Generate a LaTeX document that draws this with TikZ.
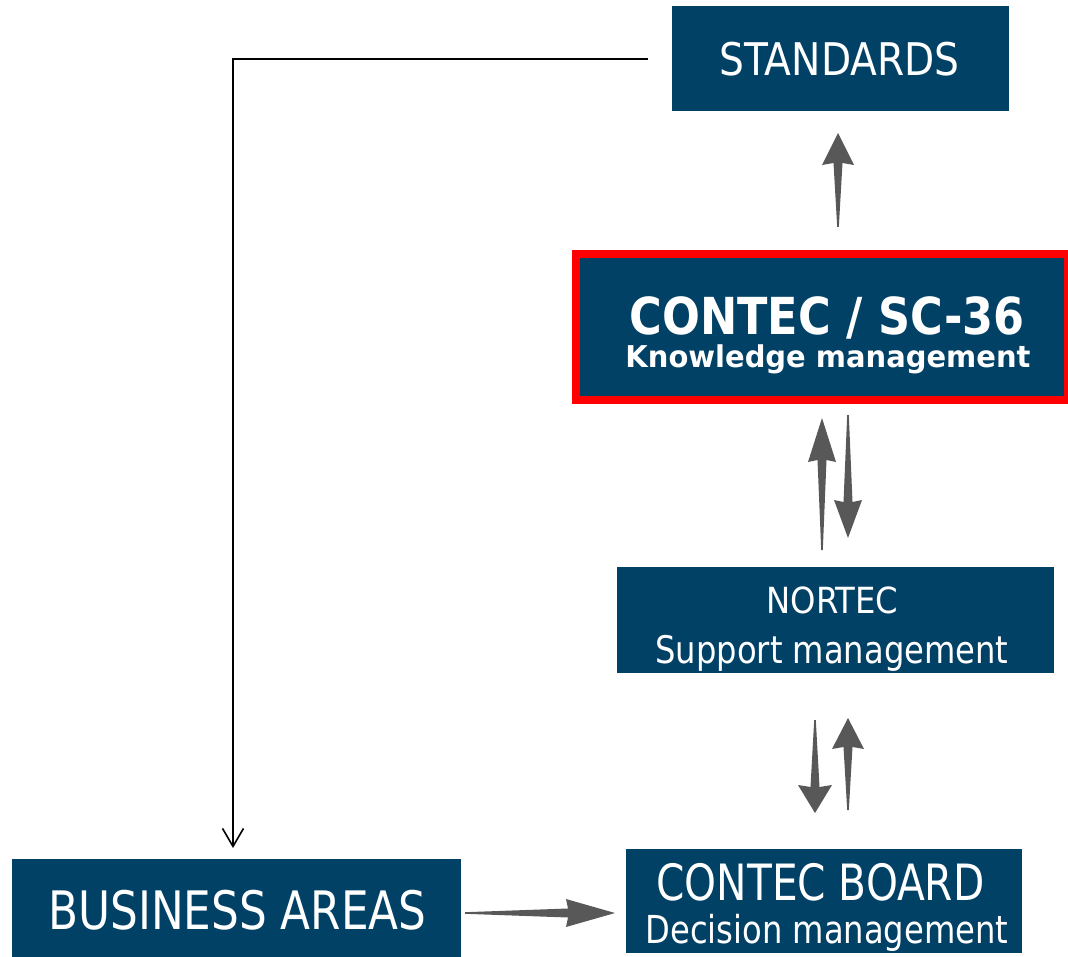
\documentclass[tikz,border=0pt]{standalone}
\usepackage{fontspec}
\setmainfont{DejaVu Sans Condensed}
\usepackage{graphicx}
\usetikzlibrary{calc,arrows.meta}
\definecolor{boxblue}{RGB}{2,65,102}
\definecolor{arrowgrey}{RGB}{88,88,88}
\definecolor{hired}{RGB}{255,0,0}
\newcommand\fitw[3]{\resizebox{#1pt}{\height}{\fontsize{#2}{#2}\selectfont #3}}
\newcommand\taparrow[4]{%
  \fill[arrowgrey] ($(#1)!0.8pt!90:(#2)$) -- ($(#2)!#3!(#1)!4.5pt!-90:(#1)$)
    -- ($(#2)!#3+2pt!(#1)!#4!-90:(#1)$) -- (#2)
    -- ($(#2)!#3+2pt!(#1)!#4!90:(#1)$) -- ($(#2)!#3!(#1)!4.5pt!90:(#1)$)
    -- ($(#1)!0.8pt!-90:(#2)$) -- cycle;}
\begin{document}
\begin{tikzpicture}[x=1pt,y=-1pt,
  bluebox/.style={fill=boxblue, draw=none, inner sep=0pt, rectangle},
  txt/.style={text=white, inner sep=0pt, anchor=base},
  thinline/.style={draw=black, line width=1.6pt}]
\useasboundingbox (0,0) rectangle (1068,957);
% boxes
\node[bluebox, minimum width=337pt, minimum height=105pt] (std) at (840.5,58.5) {};
\node[bluebox, minimum width=492pt, minimum height=146pt, draw=hired, line width=8pt] (sc) at (822,327) {};
\node[bluebox, minimum width=437pt, minimum height=106pt] (nor) at (835.5,620) {};
\node[bluebox, minimum width=396pt, minimum height=104pt] (brd) at (824,901) {};
\node[bluebox, minimum width=449pt, minimum height=98pt] (bus) at (236.5,908) {};
% texts
\node[txt] (stdt) at (839.5,76) {\fitw{240}{45}{STANDARDS}};
\node[txt] (sct1) at (827,335) {\fitw{395}{51}{\bfseries CONTEC / SC-36}};
\node[txt] (sct2) at (828,368) {\fitw{405}{30}{\bfseries Knowledge management}};
\node[txt] (nort1) at (832.5,613) {\fitw{132}{36}{NORTEC}};
\node[txt] (nort2) at (832,663) {\fitw{353}{38}{Support management}};
\node[txt] (brdt1) at (820.5,900) {\fitw{328}{50}{CONTEC BOARD}};
\node[txt] (brdt2) at (827,943) {\fitw{363}{38.5}{Decision management}};
\node[txt] (bust) at (237.5,929) {\fitw{378}{53}{BUSINESS AREAS}};
% thin connector
\coordinate (lstart) at (648,59);
\coordinate (lcorner) at (233,59);
\coordinate (lend) at (233,848);
\draw[thinline, -{Straight Barb[length=18pt,width=21pt,line width=1.6pt]}] (lstart) -- (lcorner) -- (lend);
% tapered arrows
\coordinate (a1t) at (838,227); \coordinate (a1h) at (838,133);
\coordinate (a2t) at (822,550); \coordinate (a2h) at (822,418);
\coordinate (a3t) at (848,415); \coordinate (a3h) at (848,538);
\coordinate (a4t) at (815,720); \coordinate (a4h) at (815,813);
\coordinate (a5t) at (848,810); \coordinate (a5h) at (848,718);
\coordinate (a6t) at (465,913); \coordinate (a6h) at (615,913);
\taparrow{a1t}{a1h}{30pt}{16pt}
\taparrow{a2t}{a2h}{42pt}{14pt}
\taparrow{a3t}{a3h}{36pt}{14pt}
\taparrow{a4t}{a4h}{26pt}{17pt}
\taparrow{a5t}{a5h}{29pt}{16pt}
\taparrow{a6t}{a6h}{47pt}{14pt}
\end{tikzpicture}
\end{document}
